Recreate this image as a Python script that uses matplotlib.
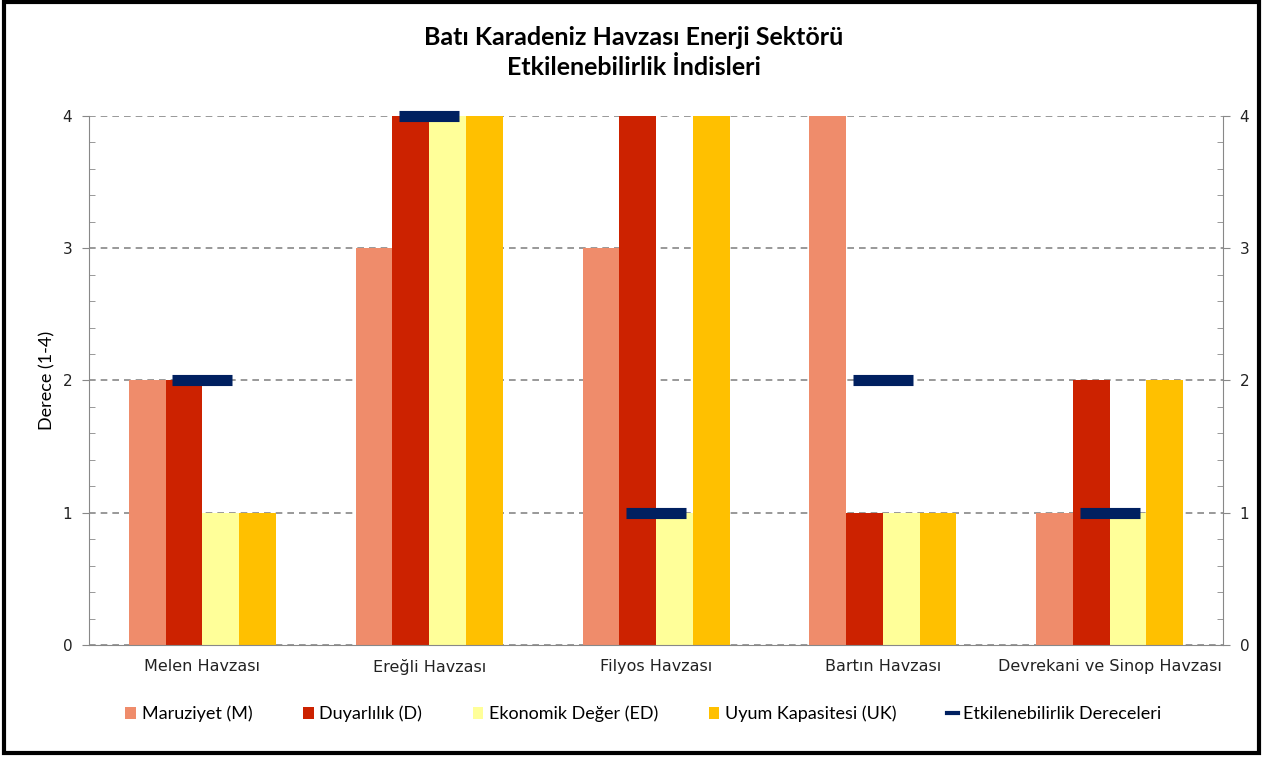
import matplotlib
matplotlib.use("Agg")
import matplotlib.pyplot as plt
import numpy as np
from matplotlib.lines import Line2D
from matplotlib.patches import Rectangle, Patch
from matplotlib.ticker import MultipleLocator

categories = ["Melen Havzası", "Ereğli Havzası", "Filyos Havzası",
              "Bartın Havzası", "Devrekani ve Sinop Havzası"]
maruziyet = [2, 3, 3, 4, 1]
duyarlilik = [2, 4, 4, 1, 2]
ekonomik = [1, 4, 1, 1, 1]
uyum = [1, 4, 4, 1, 2]
etkilenebilirlik = [2, 4, 1, 2, 1]

series = [
    ("Maruziyet (M)", maruziyet, "#EF8C6B"),
    ("Duyarlılık (D)", duyarlilik, "#CC2200"),
    ("Ekonomik Değer (ED)", ekonomik, "#FFFF99"),
    ("Uyum Kapasitesi (UK)", uyum, "#FFC000"),
]
line_color = "#002060"
ui_font = ["Lato", "DejaVu Sans"]

fig = plt.figure(figsize=(12.64, 7.58), dpi=100)
ax = fig.add_axes([0.0704, 0.1491, 0.8972, 0.6979])

x = np.arange(len(categories))
width = 0.162
for i, (name, vals, color) in enumerate(series):
    ax.bar(x + (i - 1.5) * width, vals, width, color=color, label=name, zorder=2)

ax.plot(x, etkilenebilirlik, linestyle="none", marker="_", markersize=43,
        markeredgewidth=8, color=line_color, zorder=3, clip_on=False)

ax.set_xlim(-0.5, len(categories) - 0.5)
ax.set_ylim(0, 4)
ax.set_xticks(x)
ax.set_xticklabels(categories, fontsize=11.5, color="#222222")
ax.tick_params(axis="x", length=0, pad=10)
ax.yaxis.set_major_locator(MultipleLocator(1))
ax.yaxis.set_minor_locator(MultipleLocator(0.2))
ax.yaxis.set_ticks_position("both")
ax.tick_params(axis="y", which="major", direction="out", length=5, color="#888888",
               labelsize=11, labelcolor="#222222", labelright=True, pad=7)
ax.tick_params(axis="y", which="minor", direction="in", length=4, color="#888888")
ax.grid(axis="y", which="major", linestyle=(0, (4, 3)), color="#888888",
        linewidth=1.2, zorder=0)
ax.set_axisbelow(True)
for side in ["left", "right", "bottom"]:
    ax.spines[side].set_color("#888888")
ax.spines["top"].set_visible(False)

ax.set_ylabel("Derece (1-4)", fontsize=13, family=ui_font, labelpad=5)

fig.text(0.5016, 0.951, "Batı Karadeniz Havzası Enerji Sektörü", ha="center",
         va="center", fontsize=18, fontweight="bold", family=ui_font)
fig.text(0.5016, 0.911, "Etkilenebilirlik İndisleri", ha="center",
         va="center", fontsize=18, fontweight="bold", family=ui_font)

handles = [Patch(facecolor=c, edgecolor="none") for _, _, c in series]
handles.append(Line2D([], [], color=line_color, linewidth=3))
labels = [n for n, _, _ in series] + ["Etkilenebilirlik Dereceleri"]
fig.legend(handles, labels, loc="center", bbox_to_anchor=(0.509, 0.058), ncol=5,
           frameon=False, prop={"family": ui_font, "size": 13},
           handlelength=0.6, handleheight=0.6, handletextpad=0.3, columnspacing=2.8)

fig.patches.append(Rectangle((0.003, 0.006), 0.993, 0.991, transform=fig.transFigure,
                             fill=False, edgecolor="black", linewidth=3))

fig.savefig("out.png", dpi=100)
